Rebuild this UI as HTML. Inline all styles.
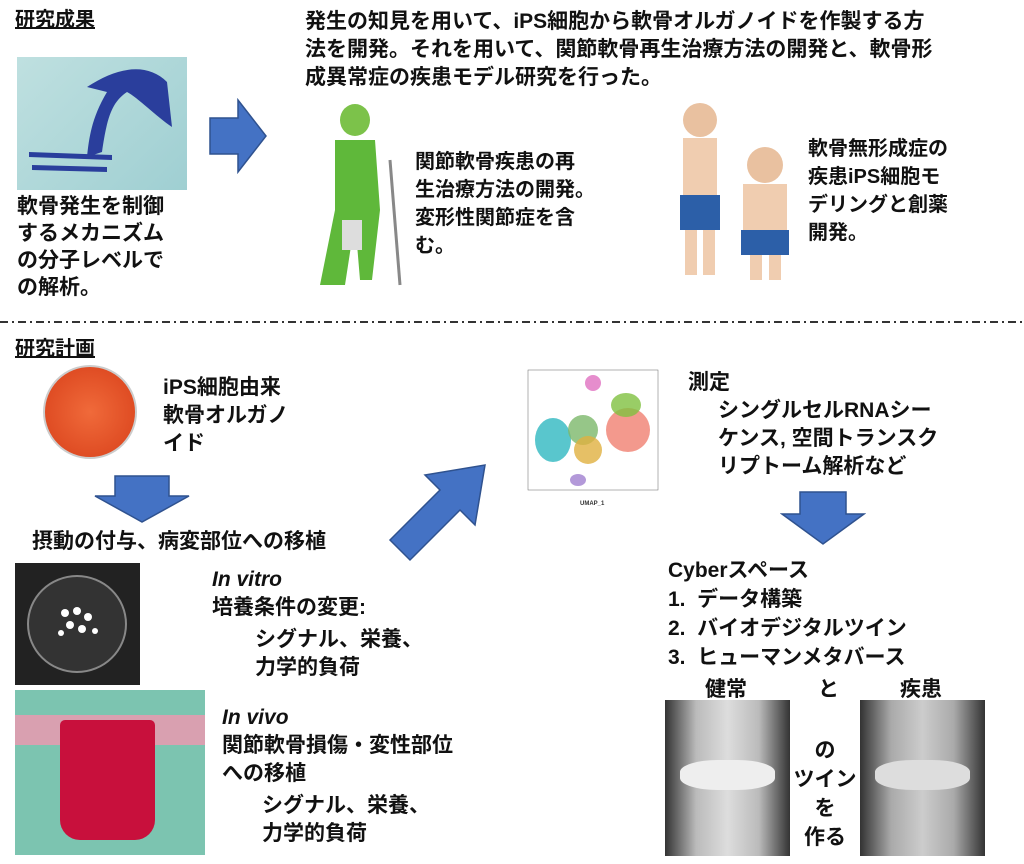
<!DOCTYPE html>
<html><head><meta charset="utf-8"><style>
*{margin:0;padding:0;box-sizing:border-box}
body{width:1024px;height:864px;background:#fff;position:relative;overflow:hidden;font-family:"Liberation Sans","Noto Sans CJK JP",sans-serif;font-weight:bold;color:#111}
.t{position:absolute;font-size:21px;line-height:28px;white-space:nowrap}
.u{text-decoration:underline}
.a{position:absolute}
</style></head><body>
<div class="t u" style="left:15px;top:6px;font-size:20px">研究成果</div>
<div class="a" style="left:17px;top:57px;width:170px;height:133px;background:linear-gradient(135deg,#bfe0e0,#9fcfd2)">
<svg width="170" height="133"><path d="M70 30 C100 10,130 5,150 25 L155 70 C140 60,120 40,110 35 C95 45,90 60,85 95 L70 100 C72 80,75 60,90 35Z" fill="#2a3e9c"/><path d="M12 95 L95 98 L95 103 L12 100Z M15 108 L90 110 L90 115 L15 113Z" fill="#2a3e9c"/></svg></div>
<div class="t" style="left:17px;top:193px;line-height:27px">軟骨発生を制御<br>するメカニズム<br>の分子レベルで<br>の解析。</div>
<svg class="a" style="left:208px;top:98px" width="60" height="76"><polygon points="2,20 30,20 30,2 58,38 30,74 30,56 2,56" fill="#4472c4" stroke="#2f528f" stroke-width="1.5"/></svg>
<div class="t" style="left:305px;top:8px">発生の知見を用いて、iPS細胞から軟骨オルガノイドを作製する方<br>法を開発。それを用いて、関節軟骨再生治療方法の開発と、軟骨形<br>成異常症の疾患モデル研究を行った。</div>
<svg class="a" style="left:300px;top:100px" width="110" height="190"><ellipse cx="55" cy="20" rx="15" ry="16" fill="#7cc24a"/><path d="M35 40 L75 40 L80 110 L72 180 L60 180 L55 120 L45 185 L20 185 L35 110Z" fill="#5fb83a"/><rect x="42" y="120" width="20" height="30" fill="#ddd"/><line x1="90" y1="60" x2="100" y2="185" stroke="#888" stroke-width="3"/></svg>
<div class="t" style="left:415px;top:148px;font-size:20px">関節軟骨疾患の再<br>生治療方法の開発。<br>変形性関節症を含<br>む。</div>
<svg class="a" style="left:665px;top:100px" width="140" height="185"><circle cx="35" cy="20" r="17" fill="#e9c1a0"/><rect x="18" y="38" width="34" height="60" fill="#f0cdb0"/><rect x="15" y="95" width="40" height="35" fill="#2c5fa8"/><rect x="20" y="130" width="12" height="45" fill="#f0cdb0"/><rect x="38" y="130" width="12" height="45" fill="#f0cdb0"/><circle cx="100" cy="65" r="18" fill="#e9c1a0"/><rect x="78" y="84" width="44" height="50" fill="#f0cdb0"/><rect x="76" y="130" width="48" height="25" fill="#2c5fa8"/><rect x="85" y="155" width="12" height="25" fill="#f0cdb0"/><rect x="104" y="155" width="12" height="25" fill="#f0cdb0"/></svg>
<div class="t" style="left:808px;top:135px;font-size:20px">軟骨無形成症の<br>疾患iPS細胞モ<br>デリングと創薬<br>開発。</div>
<svg class="a" style="left:0;top:320px" width="1024" height="4"><line x1="0" y1="2" x2="1024" y2="2" stroke="#333" stroke-width="2" stroke-dasharray="8,4,2,4"/></svg>
<div class="t u" style="left:15px;top:335px;font-size:20px">研究計画</div>
<div class="a" style="left:43px;top:365px;width:94px;height:94px;border-radius:50%;background:radial-gradient(circle,#f06a3a,#d8401a);border:2px solid #ccc"></div>
<div class="t" style="left:163px;top:374px">iPS細胞由来<br>軟骨オルガノ<br>イド</div>
<svg class="a" style="left:93px;top:474px" width="98" height="50"><polygon points="22,2 76,2 76,22 96,22 49,48 2,22 22,22" fill="#4472c4" stroke="#2f528f" stroke-width="1.5"/></svg>
<div class="t" style="left:32px;top:528px">摂動の付与、病変部位への移植</div>
<div class="a" style="left:15px;top:563px;width:125px;height:122px;background:#222"><div style="position:absolute;left:12px;top:12px;width:100px;height:98px;border-radius:50%;background:#333;border:2px solid #888"></div>
<svg class="a" style="left:40px;top:40px" width="50" height="40"><g fill="#fff"><circle cx="10" cy="10" r="4"/><circle cx="22" cy="8" r="4"/><circle cx="33" cy="14" r="4"/><circle cx="15" cy="22" r="4"/><circle cx="27" cy="26" r="4"/><circle cx="40" cy="28" r="3"/><circle cx="6" cy="30" r="3"/></g></svg></div>
<div class="t" style="left:212px;top:566px"><i>In vitro</i><br>培養条件の変更:</div>
<div class="t" style="left:255px;top:626px">シグナル、栄養、<br>力学的負荷</div>
<div class="a" style="left:15px;top:690px;width:190px;height:165px;background:#7cc4b0"><div style="position:absolute;left:0;top:25px;width:190px;height:30px;background:#d9a0b0"></div><div style="position:absolute;left:45px;top:30px;width:95px;height:120px;background:#c8103c;border-radius:5px 5px 20px 20px"></div></div>
<div class="t" style="left:222px;top:704px"><i>In vivo</i><br>関節軟骨損傷・変性部位<br>への移植</div>
<div class="t" style="left:262px;top:792px">シグナル、栄養、<br>力学的負荷</div>
<svg class="a" style="left:380px;top:460px" width="110" height="120"><polygon points="10,80 60,30 45,15 105,5 95,65 80,50 30,100" fill="#4472c4" stroke="#2f528f" stroke-width="1.5"/></svg>
<svg class="a" style="left:508px;top:365px" width="155" height="145"><rect x="20" y="5" width="130" height="120" fill="#fff" stroke="#666" stroke-width="0.5"/><ellipse cx="45" cy="75" rx="18" ry="22" fill="#2fb8c0" opacity=".8"/><ellipse cx="75" cy="65" rx="15" ry="15" fill="#7cb86a" opacity=".8"/><ellipse cx="80" cy="85" rx="14" ry="14" fill="#e0b040" opacity=".8"/><ellipse cx="120" cy="65" rx="22" ry="22" fill="#f08070" opacity=".8"/><ellipse cx="118" cy="40" rx="15" ry="12" fill="#80c040" opacity=".8"/><ellipse cx="85" cy="18" rx="8" ry="8" fill="#e070c0" opacity=".8"/><ellipse cx="70" cy="115" rx="8" ry="6" fill="#a080d0" opacity=".8"/><text x="72" y="140" font-size="6" fill="#333">UMAP_1</text></svg>
<div class="t" style="left:688px;top:369px">測定</div>
<div class="t" style="left:718px;top:397px">シングルセルRNAシー<br>ケンス, 空間トランスク<br>リプトーム解析など</div>
<svg class="a" style="left:780px;top:490px" width="86" height="56"><polygon points="20,2 66,2 66,24 84,24 43,54 2,24 20,24" fill="#4472c4" stroke="#2f528f" stroke-width="1.5"/></svg>
<div class="t" style="left:668px;top:556px;line-height:29px">Cyberスペース<br>1.&nbsp; データ構築<br>2.&nbsp; バイオデジタルツイン<br>3.&nbsp; ヒューマンメタバース</div>
<div class="t" style="left:705px;top:676px">健常</div>
<div class="t" style="left:818px;top:676px">と</div>
<div class="t" style="left:900px;top:676px">疾患</div>
<div class="a" style="left:665px;top:700px;width:125px;height:156px;background:linear-gradient(90deg,#333,#bbb 25%,#ddd 50%,#bbb 75%,#333)"><div style="position:absolute;left:15px;top:60px;width:95px;height:30px;background:#eee;border-radius:40%"></div></div>
<div class="a" style="left:860px;top:700px;width:125px;height:156px;background:linear-gradient(90deg,#333,#aaa 25%,#ccc 50%,#aaa 75%,#333)"><div style="position:absolute;left:15px;top:60px;width:95px;height:30px;background:#ddd;border-radius:40%"></div></div>
<div class="t" style="left:790px;top:736px;width:70px;text-align:center;line-height:29px">の<br>ツイン<br>を<br>作る</div>
</body></html>
